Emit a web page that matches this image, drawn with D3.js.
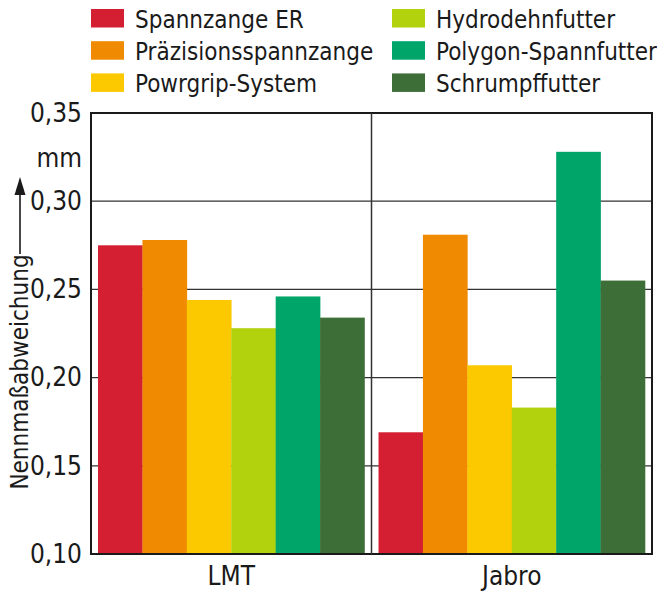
<!DOCTYPE html>
<html>
<head>
<meta charset="utf-8">
<script src="https://cdn.jsdelivr.net/npm/d3@7"></script>
<style>
  body { margin: 0; background: #fff; }
  text { font-family: "DejaVu Sans", sans-serif; font-stretch: condensed; fill: #1a1a1a; }
</style>
</head>
<body>
<div id="chart"></div>
<script>
// Data
var groups = ["LMT", "Jabro"];
var series = ["Spannzange ER", "Präzisionsspannzange", "Powrgrip-System",
              "Hydrodehnfutter", "Polygon-Spannfutter", "Schrumpffutter"];
var lmtValues = [0.275, 0.278, 0.244, 0.228, 0.246, 0.234];
var jabroValues = [0.169, 0.281, 0.207, 0.183, 0.328, 0.255];
var yTicks = [0.10, 0.15, 0.20, 0.25, 0.30, 0.35];
var colors = ["#d41f33", "#f08a00", "#fcc800", "#b2d20e", "#00a56a", "#3e6e38"];

var width = 657;
var height = 600;
var plotLeft = 91, plotRight = 652, plotTop = 113, plotBottom = 554;

var svg = d3.select("#chart").append("svg")
  .attr("width", width)
  .attr("height", height);

/* Scales */
var xScale = d3.scaleBand()
  .domain(groups)
  .range([plotLeft, plotRight])
  .paddingInner(0.05)
  .paddingOuter(0.025);

var xInner = d3.scaleBand()
  .domain(series)
  .range([0, xScale.bandwidth()]);

var yScale = d3.scaleLinear()
  .domain([0.10, 0.35])
  .range([plotBottom, plotTop]);

var color = d3.scaleOrdinal().domain(series).range(colors);

var fmt = function (d) { return d3.format(".2f")(d).replace(".", ","); };

// gridlines behind bars
svg.append("g")
  .selectAll("line")
  .data(yTicks.slice(1, -1))
  .enter().append("line")
  .attr("x1", plotLeft).attr("x2", plotRight)
  .attr("y1", d => yScale(d)).attr("y2", d => yScale(d))
  .attr("stroke", "#333")
  .attr("stroke-width", 1.2);

/* Bars */
var data = groups.map((g, i) => ({
  group: g,
  values: series.map((s, j) => ({ name: s, value: (i === 0 ? lmtValues : jabroValues)[j] }))
}));

svg.append("g")
  .selectAll("g")
  .data(data)
  .enter().append("g")
  .attr("transform", d => `translate(${xScale(d.group)},0)`)
  .selectAll("rect")
  .data(d => d.values)
  .enter().append("rect")
  .attr("x", d => xInner(d.name))
  .attr("width", xInner.bandwidth() + 0.3)
  .attr("y", d => yScale(d.value))
  .attr("height", d => yScale(0.10) - yScale(d.value))
  .attr("fill", d => color(d.name));

// frame and divider
svg.append("rect")
  .attr("x", plotLeft).attr("y", plotTop)
  .attr("width", plotRight - plotLeft).attr("height", plotBottom - plotTop)
  .attr("fill", "none")
  .attr("stroke", "#1a1a1a")
  .attr("stroke-width", 2);

var mid = (xScale("LMT") + xScale.bandwidth() + xScale("Jabro")) / 2;
svg.append("line")
  .attr("x1", mid).attr("x2", mid)
  .attr("y1", plotTop).attr("y2", plotBottom)
  .attr("stroke", "#333")
  .attr("stroke-width", 1.5);

/* Axis labels */
var yAxis = d3.axisLeft(yScale)
  .tickValues(yTicks)
  .tickFormat(fmt)
  .tickSize(0)
  .tickPadding(9);

var yAxisGroup = svg.append("g")
  .attr("transform", `translate(${plotLeft},0)`)
  .call(yAxis);
yAxisGroup.select(".domain").remove();
yAxisGroup.selectAll("text")
  .attr("font-size", "26px")
  .attr("font-family", null)
  .attr("fill", "#1a1a1a");

var xAxis = d3.axisBottom(xScale).tickSize(0).tickPadding(13);
var xAxisGroup = svg.append("g")
  .attr("transform", `translate(0,${plotBottom})`)
  .call(xAxis);
xAxisGroup.select(".domain").remove();
xAxisGroup.selectAll("text")
  .attr("font-size", "26px")
  .attr("font-family", null)
  .attr("fill", "#1a1a1a");

// unit
svg.append("text")
  .attr("x", plotLeft - 9)
  .attr("y", 167)
  .attr("text-anchor", "end")
  .attr("font-size", "26px")
  .text("mm");

// y label with arrow
svg.append("text")
  .attr("transform", "translate(28,372) rotate(-90)")
  .attr("text-anchor", "middle")
  .attr("font-size", "24px")
  .text("Nennmaßabweichung");

svg.append("line")
  .attr("x1", 20).attr("x2", 20)
  .attr("y1", 254).attr("y2", 190)
  .attr("stroke", "#1a1a1a")
  .attr("stroke-width", 1.6);
svg.append("path")
  .attr("d", "M20,177 L14.5,195 L25.5,195 Z")
  .attr("fill", "#1a1a1a");

/* Legend */
var legend = svg.append("g");
var legendItems = legend.selectAll("g")
  .data(series)
  .enter().append("g")
  .attr("transform", (d, i) => `translate(${i < 3 ? 91 : 392},${9 + (i % 3) * 32.2})`);

legendItems.append("rect")
  .attr("width", 33)
  .attr("height", 18.5)
  .attr("fill", d => color(d));

legendItems.append("text")
  .attr("x", 44)
  .attr("y", 19)
  .attr("font-size", "24px")
  .text(d => d);
</script>
</body>
</html>
